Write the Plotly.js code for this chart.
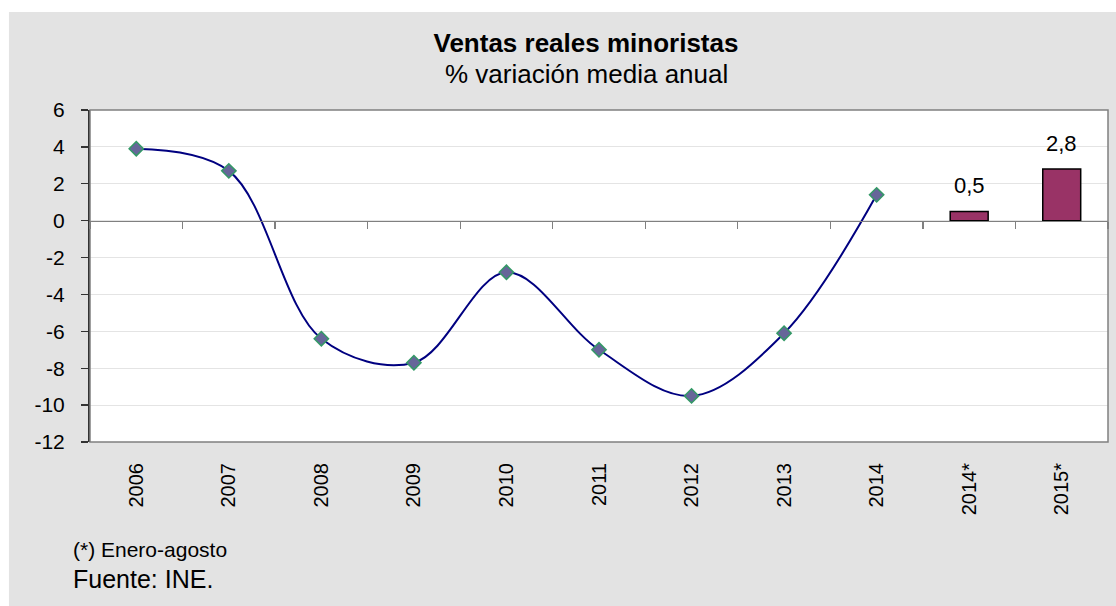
<!DOCTYPE html>
<html>
<head>
<meta charset="utf-8">
<script src="https://cdn.plot.ly/plotly-3.0.1.min.js"></script>
<style>html,body{margin:0;padding:0;background:#fff;}#chart{width:1116px;height:606px;}</style>
</head>
<body>
<div id="chart"></div>
<script>
// ---- data ----
var categories = ["2006","2007","2008","2009","2010","2011","2012","2013","2014","2014*","2015*"];
var lineYears  = ["2006","2007","2008","2009","2010","2011","2012","2013","2014"];
var lineValues = [3.9, 2.7, -6.4, -7.7, -2.8, -7.0, -9.5, -6.1, 1.4];
var barCats    = ["2014*","2015*"];
var barValues  = [0.5, 2.8];
var barLabels  = ["0,5","2,8"];
var yTickVals  = [-12,-10,-8,-6,-4,-2,0,2,4,6];
var yTickText  = ["-12","-10","-8","-6","-4","-2","0","2","4","6"];

var FONT = "Liberation Sans, Arial, sans-serif";

var traces = [
  {
    type: "scatter", mode: "lines+markers",
    x: lineYears, y: lineValues, xaxis: "x", yaxis: "y",
    line: {color: "#000080", width: 2, shape: "spline", smoothing: 1},
    marker: {symbol: "diamond", size: 11, color: "#666699", line: {color: "#339966", width: 1.5}},
    hoverinfo: "x+y", showlegend: false, cliponaxis: false
  },
  {
    type: "bar", x: barCats, y: barValues, xaxis: "x2", yaxis: "y",
    width: 0.41,
    marker: {color: "#993366", line: {color: "#000000", width: 1.5}},
    showlegend: false
  }
];

var annotations = barCats.map(function (c, i) {
  return {xref: "x2", yref: "y", x: c, y: barValues[i], text: barLabels[i],
          showarrow: false, yanchor: "bottom", yshift: 11,
          font: {family: FONT, size: 22, color: "#000"}};
});
annotations.push({xref: "paper", yref: "paper", x: 0.4882, y: 1.1084, xanchor: "center", yanchor: "middle",
  text: "% variación media anual", showarrow: false, font: {family: FONT, size: 26, color: "#000"}});
annotations.push({xref: "paper", yref: "paper", x: -0.019, y: -0.3253, xanchor: "left", yanchor: "middle",
  text: "(*) Enero-agosto", showarrow: false, font: {family: FONT, size: 21, color: "#000"}});
annotations.push({xref: "paper", yref: "paper", x: -0.019, y: -0.4117, xanchor: "left", yanchor: "middle",
  text: "Fuente: INE.", showarrow: false, font: {family: FONT, size: 25, color: "#000"}});

var layout = {
  width: 1116, height: 606,
  margin: {l: 90, r: 8, t: 110, b: 164, pad: 0},
  paper_bgcolor: "#e3e3e3",
  plot_bgcolor: "#ffffff",
  separators: ",.",
  font: {family: FONT, size: 21, color: "#000"},
  title: {text: "<b>Ventas reales minoristas</b>", font: {family: FONT, size: 26, color: "#000"},
          xref: "paper", x: 0.4872, xanchor: "center", yref: "container", y: 0.929, yanchor: "middle"},
  xaxis: {
    type: "category", categoryorder: "array", categoryarray: categories,
    range: [-0.5, 10.5], fixedrange: true,
    tickangle: -90, ticks: "outside", ticklen: 12, tickcolor: "rgba(0,0,0,0)",
    showline: false, showgrid: false, zeroline: false,
    tickfont: {family: FONT, size: 20, color: "#000"}
  },
  xaxis2: {
    type: "category", categoryorder: "array", categoryarray: categories,
    range: [-0.5, 10.5], matches: "x", overlaying: "x", anchor: "free", position: 12/18,
    showticklabels: false, ticks: "outside", tickson: "boundaries", ticklen: 7, tickcolor: "#808080", tickwidth: 1.3,
    showline: true, linecolor: "#808080", linewidth: 1.3, showgrid: false, zeroline: false
  },
  yaxis: {
    range: [-12, 6], fixedrange: true,
    tickvals: yTickVals, ticktext: yTickText,
    ticks: "outside", ticklen: 7, tickcolor: "#333", tickwidth: 1.3,
    ticklabelstandoff: 12,
    showline: true, linecolor: "#333", linewidth: 2,
    showgrid: true, gridcolor: "#e4e4e4", gridwidth: 1, zeroline: false,
    tickfont: {family: FONT, size: 21, color: "#000"}
  },
  shapes: [
    {type: "rect", xref: "paper", yref: "paper", x0: 0, x1: 1, y0: 0, y1: 1,
     line: {color: "#808080", width: 1.5}, fillcolor: "rgba(0,0,0,0)", layer: "above"},
    {type: "rect", xref: "paper", yref: "paper", x0: -0.0884, x1: -0.0796, y0: -0.494, y1: 1.3313,
     line: {width: 0}, fillcolor: "#ffffff", layer: "below"},
    {type: "rect", xref: "paper", yref: "paper", x0: -0.0884, x1: 1.0079, y0: 1.2952, y1: 1.3313,
     line: {width: 0}, fillcolor: "#ffffff", layer: "below"}
  ],
  annotations: annotations,
  showlegend: false
};

Plotly.newPlot("chart", traces, layout, {displayModeBar: false, staticPlot: true});
</script>
</body>
</html>
